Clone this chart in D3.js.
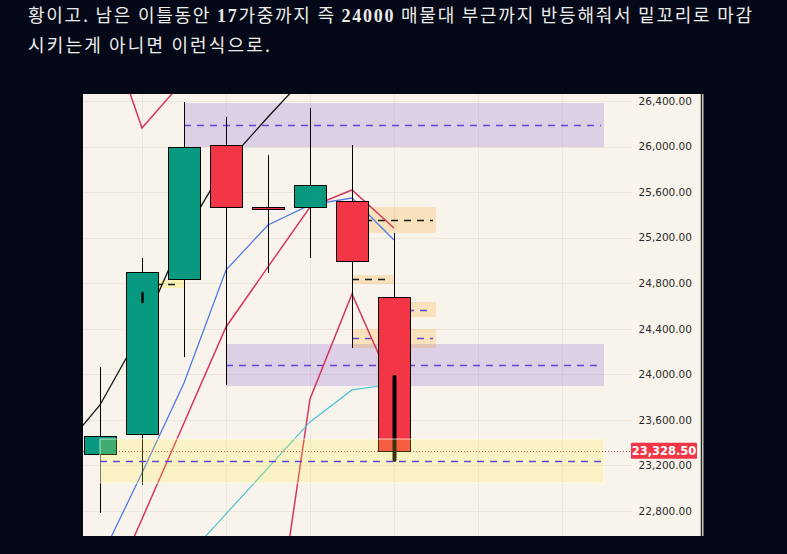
<!DOCTYPE html>
<html>
<head>
<meta charset="utf-8">
<script src="https://cdn.jsdelivr.net/npm/d3@7"></script>
<style>
  html, body { margin: 0; padding: 0; background: #050816; }
  svg { display: block; }
</style>
</head>
<body>
<div id="chart"></div>
<script>
// slots: 0 is the bar just left of the panel, 1..8 are candles, 9..13 empty future bars
const slots = d3.range(14);

// candles (slots 1..8)
const candleSlot = [1, 2, 3, 4, 5, 6, 7, 8];
const open  = [23301, 23476, 24837, 26014, 25469, 25469, 25522, 24679];
const high  = [24065, 25022, 26391, 26260, 25926, 26339, 26014, 25241];
const low   = [22783, 23029, 24152, 23906, 24890, 25022, 24231, 23248];
const close = [23459, 24899, 25996, 25469, 25452, 25662, 24995, 23328.5];

// moving average lines, one value per slot
const blackLine = [23292, 23731, 24389, 25223, 25847, 26260, 26655];
const blueLine  = [null, 22370, 23134, 23924, 24916, 25311, 25487, 25548, 25180];
const redA      = [null, 27234, 26163, 26584];
const redB      = [null, 21887, 22730, 23573, 24416, 24943, 25469, 25619, 25285];
const redC      = [null, null, null, null, null, 21272, 23784, 24705, 23871];
const cyanLine  = [null, null, null, 22370, 22774, 23178, 23582, 23863, 23915];

// zones: [fromSlot, toSlot, top, bottom, mid]
const purpleZones = [[3, 13, 26382, 25996, 26189], [4, 13, 24266, 23898, 24082]];
const orangeZones = [[7, 9, 25469, 25241, 25355], [7, 8, 24872, 24793, 24837],
                     [8, 9, 24635, 24503, 24565], [7, 9, 24398, 24231, 24319]];
const smallYellowZone = [2, 3, 24828, 24758, 24793];
const yellowZone = [1, 13, 23432, 23046, 23239];

// thick marks drawn inside candles
const markSlot = [2, 8];
const markTop = [24714, 23977];
const markBottom = [24635, 23248];

const lastPrice = 23328.5;
const yTicks = [22800, 23200, 23600, 24000, 24400, 24800, 25200, 25600, 26000, 26400];
const gridSlots = [2, 4, 6, 8, 10, 12];

const line1 = ['황이고. 남은 이틀동안 ', '17', '가중까지 즉 ', '24000', ' 매물대 부근까지 반등해줘서 밑꼬리로 마감'];
const line2 = '시키는게 아니면 이런식으로.';

const width = 787, height = 554;
const panel = { left: 83, right: 703, top: 94, bottom: 536 };
const plotRight = 632;

const svg = d3.select('#chart').append('svg')
    .attr('width', width)
    .attr('height', height);

svg.append('rect').attr('width', width).attr('height', height).attr('fill', '#050816');

// header text
const t1 = svg.append('text')
    .attr('x', 28).attr('y', 22)
    .attr('textLength', 724).attr('lengthAdjust', 'spacing')
    .attr('fill', '#ececec')
    .style('font-family', '"Noto Sans CJK KR", sans-serif')
    .style('font-size', '18px');
line1.forEach((s, i) => {
  t1.append('tspan').text(s)
    .style('font-weight', i % 2 ? 'bold' : 'normal')
    .style('font-family', i % 2 ? '"Liberation Serif", serif' : null);
});
svg.append('text')
    .attr('x', 28).attr('y', 52)
    .attr('textLength', 242).attr('lengthAdjust', 'spacing')
    .attr('fill', '#ececec')
    .style('font-family', '"Noto Sans CJK KR", sans-serif')
    .style('font-size', '18px')
    .text(line2);

// scales
const xScale = d3.scaleBand()
    .domain(slots)
    .range([37, 37 + 42 * slots.length])
    .paddingInner(0.24)
    .paddingOuter(0.12);
const xc = s => xScale(s) + xScale.bandwidth() / 2;
const yScale = d3.scaleLinear()
    .domain([22800, 26400])
    .range([511, 101]);

// panel
svg.append('rect')
    .attr('x', panel.left).attr('y', panel.top)
    .attr('width', panel.right - panel.left).attr('height', panel.bottom - panel.top)
    .attr('fill', '#f8f4eb');

svg.append('clipPath').attr('id', 'clip')
  .append('rect')
    .attr('x', panel.left).attr('y', panel.top)
    .attr('width', panel.right - panel.left - 2).attr('height', panel.bottom - panel.top);

const chart = svg.append('g').attr('clip-path', 'url(#clip)');

// gridlines
chart.selectAll('.hgrid')
    .data(yTicks)
    .enter()
    .append('line')
    .attr('x1', panel.left).attr('x2', plotRight)
    .attr('y1', d => Math.round(yScale(d)) + 0.5)
    .attr('y2', d => Math.round(yScale(d)) + 0.5)
    .attr('stroke', '#ebe6dc');
chart.selectAll('.vgrid')
    .data(gridSlots)
    .enter()
    .append('line')
    .attr('x1', d => Math.round(xc(d)) + 0.5)
    .attr('x2', d => Math.round(xc(d)) + 0.5)
    .attr('y1', panel.top).attr('y2', panel.bottom)
    .attr('stroke', '#ebe6dc');

function drawZone(g, z, fill, dash) {
  g.append('rect')
      .attr('x', xc(z[0]))
      .attr('y', yScale(z[2]))
      .attr('width', xc(z[1]) - xc(z[0]))
      .attr('height', yScale(z[3]) - yScale(z[2]))
      .attr('fill', fill);
  g.append('line')
      .attr('x1', xc(z[0])).attr('x2', xc(z[1]) - 3)
      .attr('y1', Math.round(yScale(z[4])) + 0.5)
      .attr('y2', Math.round(yScale(z[4])) + 0.5)
      .attr('stroke', dash)
      .attr('stroke-width', 1.3)
      .attr('stroke-dasharray', '7,6');
}

const purpleDash = '#6247d6';
purpleZones.forEach(z => drawZone(chart, z, 'rgba(140,100,215,0.26)', purpleDash));
const orangeDash = ['#1a1a1a', '#1a1a1a', purpleDash, purpleDash];
orangeZones.forEach((z, i) => drawZone(chart, z, 'rgba(255,152,0,0.2)', orangeDash[i]));
drawZone(chart, smallYellowZone, 'rgba(255,235,59,0.3)', '#1a1a1a');

// moving averages
const lineGen = d3.line()
    .defined(d => d != null)
    .x((d, i) => xc(i))
    .y(d => yScale(d));

const maLines = [
  { values: blackLine, color: '#111111', w: 1.3 },
  { values: blueLine, color: '#4f7ae6', w: 1.3 },
  { values: redA, color: '#d6365c', w: 1.5 },
  { values: redB, color: '#d6365c', w: 1.5 },
  { values: redC, color: '#d6365c', w: 1.5 },
  { values: cyanLine, color: '#4cc3d6', w: 1.2 }
];
chart.selectAll('.ma')
    .data(maLines)
    .enter()
    .append('path')
    .attr('d', d => lineGen(d.values))
    .attr('fill', 'none')
    .attr('stroke', d => d.color)
    .attr('stroke-width', d => d.w);

// last price dotted line
chart.append('line')
    .attr('x1', panel.left).attr('x2', plotRight)
    .attr('y1', Math.round(yScale(lastPrice)) + 0.5)
    .attr('y2', Math.round(yScale(lastPrice)) + 0.5)
    .attr('stroke', '#e0314a')
    .attr('stroke-dasharray', '1,2');

// candles
const candles = candleSlot.map((s, i) => ({ s, o: open[i], h: high[i], l: low[i], c: close[i] }));

chart.selectAll('.wick')
    .data(candles)
    .enter()
    .append('line')
    .attr('x1', d => Math.round(xc(d.s)) + 0.5)
    .attr('x2', d => Math.round(xc(d.s)) + 0.5)
    .attr('y1', d => yScale(d.h))
    .attr('y2', d => yScale(d.l))
    .attr('stroke', '#000');

chart.selectAll('.body')
    .data(candles)
    .enter()
    .append('rect')
    .attr('x', d => Math.round(xScale(d.s)) + 0.5)
    .attr('y', d => Math.round(yScale(Math.max(d.o, d.c))) + 0.5)
    .attr('width', Math.round(xScale.bandwidth()))
    .attr('height', d => Math.max(2, Math.round(Math.abs(yScale(d.o) - yScale(d.c)))))
    .attr('fill', d => d.c >= d.o ? '#089981' : '#f23645')
    .attr('stroke', '#000');

chart.selectAll('.mark')
    .data(markSlot)
    .enter()
    .append('line')
    .attr('x1', d => Math.round(xc(d)) + 0.5)
    .attr('x2', d => Math.round(xc(d)) + 0.5)
    .attr('y1', (d, i) => yScale(markTop[i]))
    .attr('y2', (d, i) => yScale(markBottom[i]))
    .attr('stroke', '#000')
    .attr('stroke-width', (d, i) => i === 1 ? 4 : 2.5)
    .attr('stroke-linecap', 'round');

// yellow demand zone sits above the candles
const yz = chart.append('g');
yz.append('rect')
    .attr('x', xc(yellowZone[0]))
    .attr('y', yScale(yellowZone[2]))
    .attr('width', xc(yellowZone[1]) - xc(yellowZone[0]))
    .attr('height', yScale(yellowZone[3]) - yScale(yellowZone[2]))
    .attr('fill', 'rgba(255,235,59,0.22)')
    .attr('stroke', 'rgba(255,255,240,0.7)');
yz.append('line')
    .attr('x1', xc(yellowZone[0])).attr('x2', xc(yellowZone[1]) - 3)
    .attr('y1', Math.round(yScale(yellowZone[4])) + 0.5)
    .attr('y2', Math.round(yScale(yellowZone[4])) + 0.5)
    .attr('stroke', purpleDash)
    .attr('stroke-width', 1.3)
    .attr('stroke-dasharray', '7,6');

// y axis labels
const fmt = d3.format(',.2f');
svg.selectAll('.ylabel')
    .data(yTicks)
    .enter()
    .append('text')
    .attr('x', 692)
    .attr('y', d => yScale(d))
    .attr('dy', '0.36em')
    .attr('text-anchor', 'end')
    .attr('fill', '#2a2a2a')
    .style('font-family', '"DejaVu Sans", sans-serif')
    .style('font-size', '10.5px')
    .text(d => fmt(d));

// last price tag
const py = yScale(lastPrice);
svg.append('rect')
    .attr('x', 631).attr('y', py - 8)
    .attr('width', 66).attr('height', 16)
    .attr('rx', 1)
    .attr('fill', '#f23645');
svg.append('text')
    .attr('x', 664).attr('y', py)
    .attr('dy', '0.36em')
    .attr('text-anchor', 'middle')
    .attr('fill', '#ffffff')
    .style('font-family', '"DejaVu Sans", sans-serif')
    .style('font-size', '11.5px')
    .style('font-weight', 'bold')
    .text(fmt(lastPrice));

// right border
svg.append('line')
    .attr('x1', 701.5).attr('x2', 701.5)
    .attr('y1', panel.top).attr('y2', panel.bottom)
    .attr('stroke', '#222')
    .attr('stroke-width', 1.5);
svg.append('line')
    .attr('x1', 703).attr('x2', 703)
    .attr('y1', panel.top).attr('y2', panel.bottom)
    .attr('stroke', '#cfcac0');
</script>
</body>
</html>
